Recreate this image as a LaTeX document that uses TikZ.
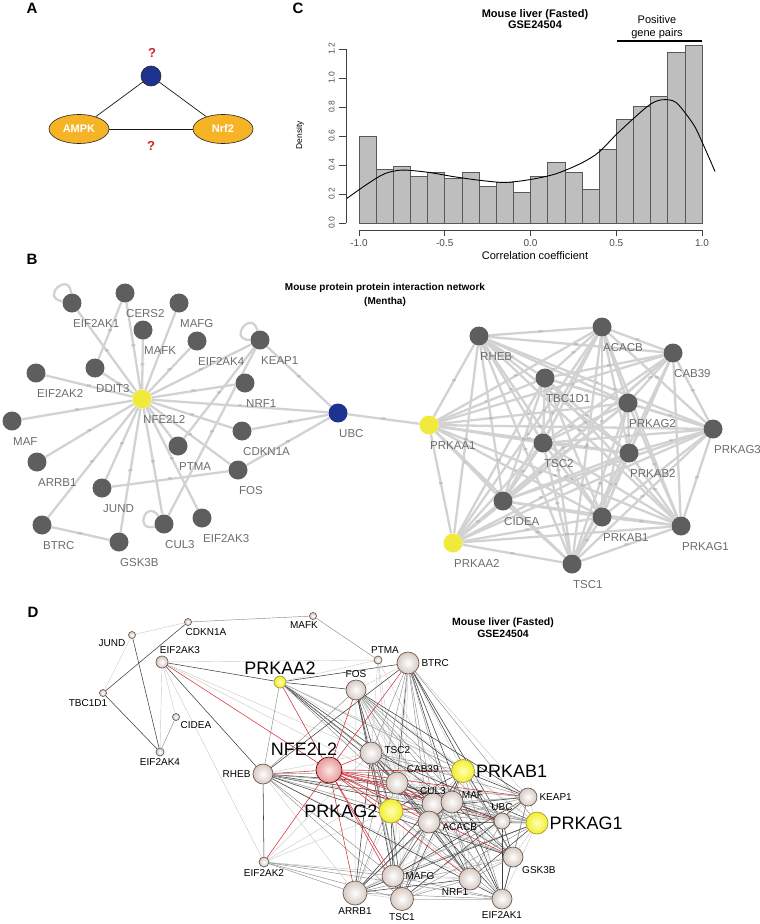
\documentclass[tikz,border=0pt]{standalone}
\usepackage{fontspec}
\setmainfont{Liberation Sans}
\usetikzlibrary{shapes.geometric,backgrounds}

\definecolor{ampkorange}{HTML}{F5B325}
\definecolor{qred}{HTML}{D0202A}
\definecolor{hubblue}{HTML}{1E3290}
\definecolor{histgray}{HTML}{BEBEBE}
\definecolor{bgray}{HTML}{5E5E5E}
\definecolor{blabgray}{HTML}{6C6C6C}
\definecolor{bedgegray}{HTML}{D2D2D2}
\definecolor{byellow}{HTML}{F0EA3C}
\definecolor{dborder}{HTML}{6E5A50}
\definecolor{dshade}{HTML}{D6CAC3}
\definecolor{dred}{HTML}{D2343A}
\definecolor{dyellow}{HTML}{F2EE2E}
\definecolor{dyelborder}{HTML}{A89A3A}
\definecolor{dpinkc}{HTML}{E49A9A}

\tikzset{
  panel/.style={font=\fontsize{15}{15}\selectfont\bfseries, inner sep=0},
  qmark/.style={font=\fontsize{13}{13}\selectfont\bfseries, text=qred, inner sep=0},
  kinase/.style={ellipse, draw=black!85, line width=0.6pt, fill=ampkorange,
    minimum width=60pt, minimum height=29pt, inner sep=0, text=white,
    font=\fontsize{11}{11}\selectfont\bfseries},
  hubnode/.style={circle, draw=black!85, line width=0.6pt, fill=hubblue, minimum size=20pt, inner sep=0},
  alink/.style={draw=black!90, line width=0.7pt},
  % panel C
  ctitle/.style={font=\fontsize{11}{11.5}\selectfont\bfseries, align=center, inner sep=0},
  ctext/.style={font=\fontsize{11}{13}\selectfont, align=center, inner sep=0},
  histbar/.style={draw=black!65, line width=0.6pt, fill=histgray},
  axisline/.style={draw=black!75, line width=0.6pt},
  ytick/.style={font=\fontsize{8.5}{8.5}\selectfont, text=black!70, inner sep=4pt},
  xtick/.style={font=\fontsize{10}{10}\selectfont, text=black!70, inner sep=3pt},
  % panel B
  btitle/.style={font=\fontsize{10}{14}\selectfont\bfseries, align=center, inner sep=0},
  bnode/.style={circle, fill=#1, minimum size=19pt, inner sep=0},
  blab/.style={font=\fontsize{11.5}{11.5}\selectfont, text=blabgray, inner sep=1pt,
    anchor=north west, label distance=6pt},
  bedge/.style={draw=bedgegray, line width=2.3pt},
  bloop/.style={bedge, looseness=5},
  pp/.style={font=\fontsize{3.5}{3.5}\selectfont, text=black!40, inner sep=0},
  % panel D
  dball/.style={circle, draw=dborder, line width=0.7pt, inner color=white,
    outer color=dshade, minimum size=#1, inner sep=0},
  dyel/.style={dball=#1, inner color=yellow!30, outer color=dyellow, draw=dyelborder},
  dpink/.style={dball=#1, inner color=red!10, outer color=dpinkc, draw=red!45!black},
  dlab/.style={font=\fontsize{10}{10}\selectfont, inner sep=1pt, label distance=1pt},
  dbig/.style={font=\fontsize{18}{18}\selectfont, inner sep=1pt, label distance=0pt},
  dtitle/.style={font=\fontsize{10.5}{12}\selectfont\bfseries, align=center, inner sep=0},
  dcore0/.style={draw=black!75, line width=0.55pt},
  dcore1/.style={draw=black!45, line width=0.45pt},
  dcore2/.style={draw=black!22, line width=0.4pt},
  dredlink/.style={draw=dred, line width=0.55pt},
}

\begin{document}
\begin{tikzpicture}[x=1pt, y=-1pt]
\useasboundingbox (0,0) rectangle (760,924);

%% ---------- A ----------
\node[panel] (labA) at (32,8) {A};
\node[hubnode] (hub) at (151,76) {};
\node[qmark] (qtop) at (152,53) {?};
\node[kinase] (ampk) at (79,129) {AMPK};
\node[kinase] (nrf2) at (223,129) {Nrf2};
\node[qmark] (qbot) at (151,146) {?};
\draw[alink] (hub) -- (ampk);
\draw[alink] (hub) -- (nrf2);
\draw[alink] (ampk) -- (nrf2);

%% ---------- C ----------
\node[panel] (labC) at (298,8) {C};
\node[ctitle] (ctitle) at (535,19) {Mouse liver (Fasted)\\GSE24504};
\node[ctext] (cpos) at (657,27) {Positive\\gene pairs};
\draw[line width=1.2pt] (617,41) -- (702,41);
\node[font=\fontsize{8.5}{8.5}\selectfont, rotate=90, inner sep=0] (cdens) at (300,135) {Density};
\node[font=\fontsize{11}{11}\selectfont, inner sep=0] (ccorr) at (535,256) {Correlation coefficient};
\coordinate (corig) at (530.5,223);
\begin{scope}[shift={(corig)}, x=171.5pt, y=145pt]
  \foreach \h [count=\i] in {0.600,0.371,0.394,0.325,0.348,0.305,0.348,0.256,0.280,0.213,
                             0.325,0.417,0.348,0.234,0.510,0.717,0.806,0.875,1.175,1.223}
    \draw[histbar] ({-1.1+0.1*\i},0) rectangle ++(0.1,\h);
  \draw[line width=0.9pt] plot[smooth] coordinates {(-1.076,0.165) (-0.95,0.27) (-0.85,0.34)
    (-0.75,0.365) (-0.6,0.35) (-0.45,0.32) (-0.3,0.295) (-0.15,0.28) (0,0.30) (0.15,0.34)
    (0.3,0.415) (0.4,0.49) (0.5,0.61) (0.6,0.72) (0.7,0.82) (0.77,0.85) (0.85,0.83)
    (0.95,0.68) (1.0,0.56) (1.076,0.355)};
  \draw[axisline] (-1.076,0) -- (-1.076,1.2);
  \foreach \t in {0.0,0.2,0.4,0.6,0.8,1.0,1.2}
    \draw[axisline] (-1.076,\t) -- ++(-7pt,0) node[ytick, rotate=90, anchor=south] {\t};
  \draw[axisline] (-1,-0.048) -- (1,-0.048);
  \foreach \t/\s in {-1/-1.0,-0.5/-0.5,0/0.0,0.5/0.5,1/1.0}
    \draw[axisline] (\t,-0.048) -- ++(0,-6pt) node[xtick, anchor=north] {\s};
\end{scope}

%% ---------- B ----------
\node[panel] (labB) at (32,259) {B};
\node[btitle] (btitle) at (385,295) {Mouse protein protein interaction network\\(Mentha)};
\foreach \n/\x/\y/\c in {EIF2AK1/72/303/bgray, CERS2/125/293/bgray, MAFG/179/303/bgray,
    MAFK/143/330/bgray, EIF2AK4/197/341/bgray, KEAP1/260/340/bgray, DDIT3/95/368/bgray,
    EIF2AK2/36/373/bgray, NFE2L2/142/399/byellow, NRF1/245/383/bgray, UBC/338/413/hubblue,
    MAF/12/421/bgray, CDKN1A/242/431/bgray, ARRB1/37/462/bgray, PTMA/178/446/bgray,
    FOS/238/470/bgray, JUND/102/488/bgray, BTRC/42/525/bgray, GSK3B/119/542/bgray,
    CUL3/164/524/bgray, EIF2AK3/202/518/bgray,
    PRKAA1/429/425/byellow, RHEB/479/336/bgray, ACACB/602/327/bgray, CAB39/673/353/bgray,
    TBC1D1/545/378/bgray, PRKAG2/628/403/bgray, PRKAG3/713/429/bgray, TSC2/543/443/bgray,
    PRKAB2/629/453/bgray, CIDEA/503/501/bgray, PRKAB1/602/517/bgray, PRKAG1/681/526/bgray,
    PRKAA2/453/543/byellow, TSC1/572/564/bgray}
  \node[bnode=\c, label={[blab]-90:\n}] (b\n) at (\x,\y) {};

\begin{pgfonlayer}{background}
  \foreach \t in {EIF2AK1,CERS2,MAFG,MAFK,EIF2AK4,KEAP1,DDIT3,EIF2AK2,NRF1,UBC,MAF,
                  CDKN1A,ARRB1,PTMA,FOS,JUND,GSK3B,CUL3,EIF2AK3,BTRC}
    \draw[bedge] (bNFE2L2) -- node[pp]{pp} (b\t);
  \foreach \s/\t in {CERS2/DDIT3,KEAP1/UBC,KEAP1/CUL3,KEAP1/PTMA,FOS/UBC,CDKN1A/UBC,
                     JUND/FOS,BTRC/GSK3B,UBC/PRKAA1}
    \draw[bedge] (b\s) -- node[pp]{pp} (b\t);
  \draw[bloop] (bEIF2AK1) to[out=170, in=95] (bEIF2AK1);
  \draw[bloop] (bKEAP1) to[out=180, in=105] (bKEAP1);
  \draw[bloop] (bCUL3) to[out=195, in=125] (bCUL3);
  % AMPK cluster
  \def\bcluster{PRKAA1,RHEB,ACACB,CAB39,TBC1D1,PRKAG2,PRKAG3,TSC2,PRKAB2,CIDEA,PRKAB1,PRKAG1,PRKAA2,TSC1}
  \foreach \a [count=\i] in \bcluster {
    \foreach \b [count=\j] in \bcluster {
      \ifnum\j>\i \draw[bedge] (b\a) -- node[pp]{pp} (b\b); \fi
    }
  }
\end{pgfonlayer}

%% ---------- D ----------
\node[panel] (labD) at (33,612) {D};
\node[dtitle] (dtitle) at (503,628) {Mouse liver (Fasted)\\GSE24504};
\node[dball=7pt, label={[dlab,xshift=-9pt]below:MAFK}] (dMAFK) at (313,616) {};
\node[dball=7pt, label={[dlab,xshift=18pt]below:CDKN1A}] (dCDKN1A) at (188,622) {};
\node[dball=7pt, label={[dlab,xshift=-2pt]below left:JUND}] (dJUND) at (132,635) {};
\node[dball=12pt, label={[dlab,xshift=18pt]above:EIF2AK3}] (dEIF2AK3) at (162,662) {};
\node[dball=7pt, label={[dlab,xshift=-15pt]below:TBC1D1}] (dTBC1D1) at (103,693) {};
\node[dball=7pt, label={[dlab]below right:CIDEA}] (dCIDEA) at (176,717) {};
\node[dball=8pt, label={[dlab]below:EIF2AK4}] (dEIF2AK4) at (160,752) {};
\node[dyel=12pt, label={[dbig]above:PRKAA2}] (dPRKAA2) at (280,682) {};
\node[dball=8pt, label={[dlab,xshift=7pt]above:PTMA}] (dPTMA) at (378,660) {};
\node[dball=22pt, label={[dlab]right:BTRC}] (dBTRC) at (408,663) {};
\node[dball=20pt, label={[dlab]above:FOS}] (dFOS) at (356,690) {};
\node[dball=20pt, label={[dlab]left:RHEB}] (dRHEB) at (263,774) {};
\node[dball=22pt, label={[dlab,yshift=3pt]right:TSC2}] (dTSC2) at (371,753) {};
\node[dball=22pt, label={[dlab]above right:CAB39}] (dCAB39) at (397,783) {};
\node[dyel=23pt, label={[dbig]right:PRKAB1}] (dPRKAB1) at (463,771) {};
\node[dball=22pt, label={[dlab,label distance=-3pt]above:CUL3}] (dCUL3) at (433,804) {};
\node[dball=22pt, label={[dlab,yshift=-6pt]above right:MAF}] (dMAF) at (452,802) {};
\node[dball=22pt, label={[dlab,yshift=-5pt]right:ACACB}] (dACACB) at (429,822) {};
\node[dyel=24pt, label={[dbig]left:PRKAG2}] (dPRKAG2) at (391,811) {};
\node[dball=16pt, label={[dlab]above:UBC}] (dUBC) at (502,821) {};
\node[dball=18pt, label={[dlab]right:KEAP1}] (dKEAP1) at (528,797) {};
\node[dyel=22pt, label={[dbig]right:PRKAG1}] (dPRKAG1) at (537,823) {};
\node[dball=20pt, label={[dlab]below right:GSK3B}] (dGSK3B) at (513,857) {};
\node[dball=22pt, label={[dlab,label distance=0pt]right:MAFG}] (dMAFG) at (393,876) {};
\node[dball=22pt, label={[dlab,xshift=8pt]below left:NRF1}] (dNRF1) at (470,879) {};
\node[dball=20pt, label={[dlab]below:EIF2AK1}] (dEIF2AK1) at (502,899) {};
\node[dball=23pt, label={[dlab]below:TSC1}] (dTSC1) at (402,899) {};
\node[dball=24pt, label={[dlab]below:ARRB1}] (dARRB1) at (355,893) {};
\node[dball=10pt, label={[dlab]below:EIF2AK2}] (dEIF2AK2) at (264,862) {};
\node[dpink=26pt, label={[dbig,xshift=-25pt]above:NFE2L2}] (dNFE2L2) at (329,770) {};

\begin{pgfonlayer}{background}
  % outer ring
  \foreach \s/\t/\k in {JUND/CDKN1A/2, JUND/TBC1D1/2, CDKN1A/MAFK/1, MAFK/PTMA/1,
      CDKN1A/TBC1D1/0, JUND/EIF2AK4/0, TBC1D1/EIF2AK4/0, CIDEA/EIF2AK4/1,
      EIF2AK3/EIF2AK4/2, EIF2AK3/CIDEA/2, EIF2AK3/PTMA/2, EIF2AK3/EIF2AK2/2,
      EIF2AK3/PRKAA2/0, EIF2AK3/RHEB/0, EIF2AK3/TSC2/2, EIF2AK3/CAB39/2,
      PRKAA2/FOS/0, PRKAA2/BTRC/0, PRKAA2/RHEB/1, PRKAA2/TSC2/0, PRKAA2/CAB39/0,
      PRKAA2/CUL3/1, PRKAA2/MAF/0, PRKAA2/PRKAB1/1, PRKAA2/ACACB/1, PRKAA2/KEAP1/2,
      PRKAA2/UBC/2, PRKAA2/PTMA/2,
      EIF2AK2/RHEB/0, EIF2AK2/ARRB1/1, EIF2AK2/MAFG/1, EIF2AK2/TSC1/1, EIF2AK2/NRF1/2,
      EIF2AK2/PRKAG2/2, EIF2AK2/TSC2/2, EIF2AK2/CAB39/2, EIF2AK2/EIF2AK1/1,
      PTMA/TSC2/2, PTMA/CAB39/2, PTMA/MAF/2, PTMA/PRKAG2/2}
    \draw[dcore\k] (d\s) -- (d\t);
  % dense core
  \def\dcore{BTRC,FOS,TSC2,CAB39,PRKAB1,CUL3,MAF,PRKAG2,ACACB,UBC,KEAP1,PRKAG1,GSK3B,MAFG,NRF1,EIF2AK1,TSC1,ARRB1,RHEB}
  \foreach \a [count=\i] in \dcore {
    \foreach \b [count=\j] in \dcore {
      \ifnum\j>\i
        \pgfmathtruncatemacro\k{mod(\i+2*\j,3)}
        \draw[dcore\k] (d\a) -- (d\b);
      \fi
    }
  }
  % NFE2L2 links
  \foreach \t in {PRKAA2,FOS,BTRC,EIF2AK3,RHEB,EIF2AK2,ARRB1,TSC2,CAB39,CUL3,MAF,ACACB,
                  PRKAG2,PRKAB1,MAFG,NRF1,TSC1,UBC,KEAP1,GSK3B}
    \draw[dredlink] (dNFE2L2) -- (d\t);
\end{pgfonlayer}
\end{tikzpicture}
\end{document}
